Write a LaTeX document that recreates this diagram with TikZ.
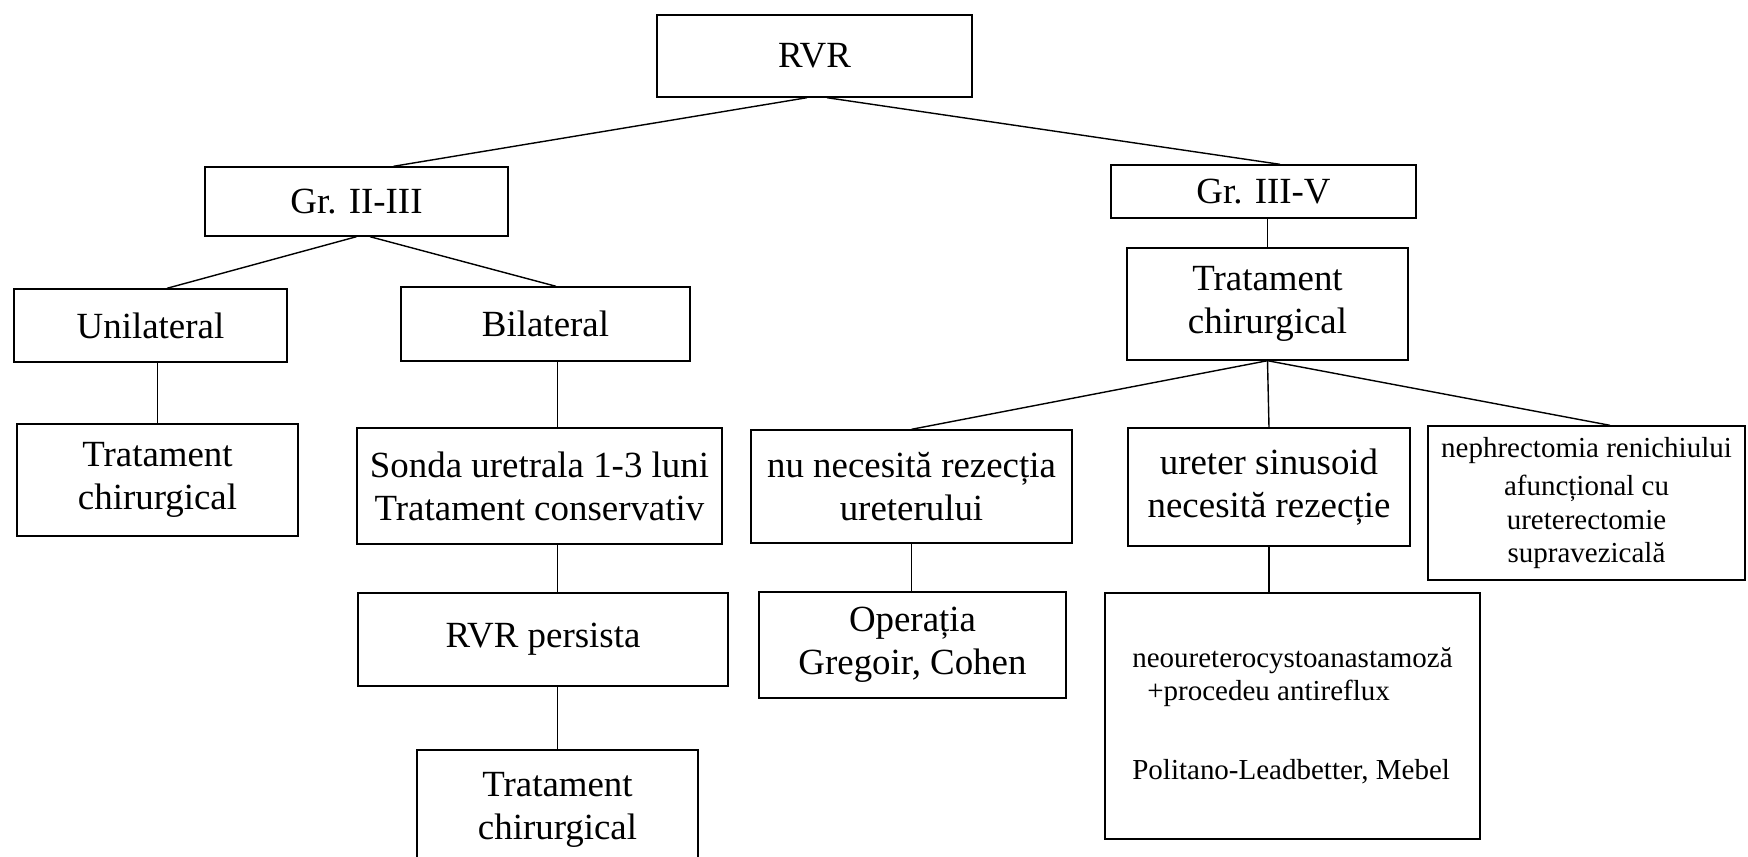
\documentclass[tikz,border=0pt]{standalone}
\usepackage{fontspec}
\setmainfont{Liberation Serif}

\tikzset{
  cell/.style={draw, line width=0.8pt, inner sep=0pt, align=center,
    font=\fontsize{21}{24.5}\selectfont},
  cellsmall/.style={cell, font=\fontsize{16.5}{19}\selectfont},
  link/.style={line width=0.8pt}
}

\begin{document}
\begin{tikzpicture}[x=0.02cm, y=-0.02cm]
\useasboundingbox (0,0) rectangle (1748,856);
\clip (0,0) rectangle (1748,856);

% Root and grades
\node[cell, minimum width=6.30cm, minimum height=1.64cm] (rvr) at (814.5,56) {RVR};
\node[cell, minimum width=6.06cm, minimum height=1.38cm] (gra) at (356.5,201.5) {Gr. II-III};
\node[cell, minimum width=6.10cm, minimum height=1.06cm] (grb) at (1263.5,191.5) {Gr. III-V};

% Left branch
\node[cell, minimum width=5.46cm, minimum height=1.46cm] (unil) at (150.5,325.5) {Unilateral};
\node[cell, minimum width=5.78cm, minimum height=1.48cm] (bilat) at (545.5,324) {Bilateral};
\node[cell, minimum width=5.62cm, minimum height=2.24cm] (tchl) at (157.5,480) {Tratament\\chirurgical};
\node[cell, minimum width=7.30cm, minimum height=2.32cm] (sonda) at (539.5,486) {Sonda uretrala 1-3 luni\\Tratament conservativ};
\node[cell, minimum width=7.40cm, minimum height=1.86cm] (persist) at (543,639.5) {RVR persista};
\node[cell, minimum width=5.62cm, minimum height=2.40cm] (tchb) at (557.5,810) {Tratament\\chirurgical};

% Right branch
\node[cell, minimum width=5.62cm, minimum height=2.24cm] (tchr) at (1267.5,304) {Tratament\\chirurgical};
\node[cell, minimum width=6.42cm, minimum height=2.26cm] (nerez) at (911.5,486.5) {nu necesită rezecția\\ureterului};
\node[cell, minimum width=5.64cm, minimum height=2.36cm] (rez) at (1269,487) {ureter sinusoid\\necesită rezecție};
\node[cellsmall, minimum width=6.34cm, minimum height=3.08cm] (nefr) at (1586.5,503)
  {nephrectomia renichiului\\[3pt]afuncțional cu\\ureterectomie\\supravezicală};
\node[cell, minimum width=6.14cm, minimum height=2.12cm] (oper) at (912.5,645) {Operația\\Gregoir, Cohen};
\node[cellsmall, align=left, minimum width=7.50cm, minimum height=4.92cm] (neo) at (1292.5,716)
  {neoureterocystoanastamoză\\\hspace*{0.3cm}+procedeu antireflux\\[26pt]Politano-Leadbetter, Mebel};

% Connectors
\draw[link] ([xshift=-0.15cm]rvr.south) -- ([xshift=0.74cm]gra.north);
\draw[link] ([xshift=0.25cm]rvr.south) -- ([xshift=0.33cm]grb.north);
\draw[link] (gra.south) -- ([xshift=0.33cm]unil.north);
\draw[link] ([xshift=0.27cm]gra.south) -- ([xshift=0.21cm]bilat.north);
\draw[link] (unil.south -| tchl.north) -- (tchl.north);
\draw[link] (bilat.south -| tchb.north) -- (sonda.north -| tchb.north);
\draw[link] (sonda.south -| tchb.north) -- (persist.north -| tchb.north);
\draw[link] (persist.south -| tchb.north) -- (tchb.north);
\draw[link] (grb.south -| tchr.north) -- (tchr.north);
\draw[link] (tchr.south) -- (nerez.north);
\draw[link] (tchr.south) -- (rez.north);
\draw[link] (tchr.south) -- ([xshift=0.47cm]nefr.north);
\draw[link] (nerez.south) -- (nerez.south |- oper.north);
\draw[link] (rez.south) -- (rez.south |- neo.north);
\end{tikzpicture}
\end{document}
